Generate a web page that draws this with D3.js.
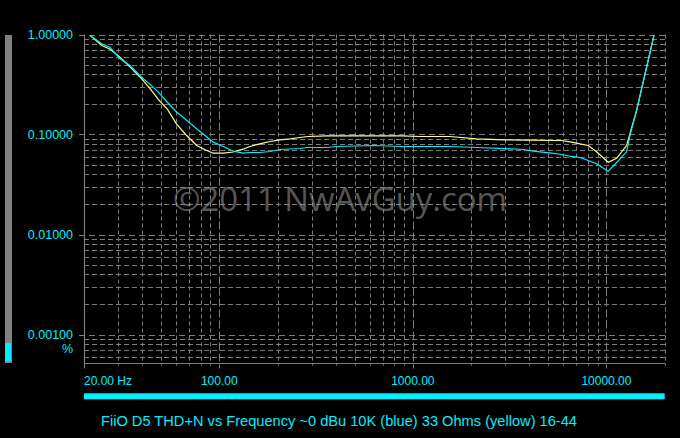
<!DOCTYPE html>
<html><head><meta charset="utf-8">
<script src="https://cdn.jsdelivr.net/npm/d3@7"></script>
<style>
html,body{margin:0;padding:0;background:#000;}
svg{display:block;}
</style></head>
<body>
<svg id="chart" width="680" height="438"></svg>
<script>
// ---- data ----
const freqs = [21.5, 24.7, 27.2, 30.7, 34.6, 39.7, 44, 48.4, 54, 60.2, 67, 76.4, 85, 93.1, 105, 118, 132.5, 144, 162, 183, 206, 232, 261, 287, 359, 404, 624, 875, 1089, 1553, 2134, 2993, 3716, 4188, 5212, 5865, 6610, 7295, 8054, 8895, 10210, 11290, 12710, 13220, 14320, 17590];
const blue10K = [0.98, 0.807, 0.746, 0.571, 0.490, 0.374, 0.315, 0.265, 0.209, 0.168, 0.141, 0.114, 0.0966, 0.0839, 0.0759, 0.0681, 0.065, 0.0661, 0.0661, 0.0676, 0.0708, 0.0716, 0.0724, 0.0741, 0.0741, 0.0759, 0.0776, 0.0759, 0.0759, 0.0759, 0.0741, 0.0724, 0.0708, 0.0681, 0.065, 0.0631, 0.0603, 0.0589, 0.055, 0.051, 0.043, 0.0525, 0.0671, 0.0977, 0.174, 0.977];
const yellow33 = [0.98, 0.776, 0.716, 0.593, 0.471, 0.360, 0.286, 0.224, 0.178, 0.127, 0.100, 0.0776, 0.070, 0.065, 0.065, 0.0668, 0.0713, 0.0759, 0.0805, 0.0851, 0.0885, 0.0906, 0.0933, 0.0955, 0.097, 0.097, 0.097, 0.097, 0.0955, 0.0955, 0.0906, 0.0885, 0.088, 0.0877, 0.0871, 0.0871, 0.0839, 0.0805, 0.0776, 0.0671, 0.0527, 0.0578, 0.0776, 0.1016, 0.174, 0.977];
const yTickValues = [1, 0.1, 0.01, 0.001];
const yTickLabels = ["1.00000", "0.10000", "0.01000", "0.00100"];
const xTickValues = [20, 100, 1000, 10000];
const xTickLabels = ["20.00 Hz", "100.00", "1000.00", "10000.00"];
const yUnit = "%";
const title = "FiiO D5 THD+N vs Frequency ~0 dBu 10K (blue) 33 Ohms (yellow) 16-44";
const watermark = "\u00A92011 NwAvGuy.com";

// ---- layout ----
const L = 84, R = 664.7, T = 34.5, B = 363.5;
const CY = "#00eeff", GRID = "#7c7c7c";
const svg = d3.select("#chart");
svg.append("rect").attr("width",680).attr("height",438).attr("fill","#000");

const x = d3.scaleLog().domain([20, 20000]).range([L, R]);
const y = d3.scaleLog().domain([1, 0.001]).range([T, T + 300]);

// level meter bar at left
svg.append("rect").attr("x",5).attr("y",35).attr("width",7).attr("height",328).attr("fill","#808080");
svg.append("rect").attr("x",5).attr("y",343).attr("width",6).attr("height",18.5).attr("fill",CY);

// gridlines
const g = svg.append("g");
const hVals = [];
for (let e = -4; e <= 0; e++) for (let m = 1; m <= 9; m++) {
  const v = m * Math.pow(10, e);
  if (v <= 1.0001 && y(v) <= B) hVals.push({v, major: m === 1});
}
hVals.forEach(d => {
  const yy = Math.round(y(d.v)) + 0.5;
  g.append("line").attr("x1", d.major ? 79 : L).attr("x2", R + 0.5)
    .attr("y1", yy).attr("y2", yy)
    .attr("stroke", GRID).attr("stroke-width",1)
    .attr("stroke-dasharray", d.major ? "6,4" : "5,3");
});
const vVals = [];
for (let e = 1; e <= 4; e++) for (let m = 1; m <= 9; m++) {
  const f = m * Math.pow(10, e);
  if (f > 20 && f <= 20000) vVals.push({f, major: m === 1});
}
vVals.forEach(d => {
  const xx = Math.round(x(d.f)) + 0.5;
  g.append("line").attr("x1", xx).attr("x2", xx)
    .attr("y1", T).attr("y2", d.major ? B + 5 : B + 2)
    .attr("stroke", GRID).attr("stroke-width",1)
    .attr("stroke-dasharray", d.major ? "8,3" : "4,3");
});
// axes lines
g.append("line").attr("x1", L + 0.5).attr("x2", L + 0.5).attr("y1", T).attr("y2", B + 5)
  .attr("stroke", GRID).attr("stroke-width",1.2);
g.append("line").attr("x1", L).attr("x2", R + 1).attr("y1", B).attr("y2", B)
  .attr("stroke", GRID).attr("stroke-width",1.2);

// watermark
svg.append("text").attr("x", 340).attr("y", 211).attr("text-anchor","middle")
  .attr("font-family","'Open Sans', 'Noto Sans', sans-serif").attr("font-size",32)
  .attr("textLength",334).attr("lengthAdjust","spacingAndGlyphs")
  .attr("fill","#a0a0a0").attr("fill-opacity",0.55).text(watermark);

// curves
svg.append("clipPath").attr("id","clip").append("rect")
  .attr("x", L).attr("y", T - 1).attr("width", R - L).attr("height", B - T);
const line = d3.line().x(d => x(d[0])).y(d => y(d[1]));
const plot = svg.append("g").attr("clip-path","url(#clip)");
plot.append("path").datum(freqs.map((f,i)=>[f, yellow33[i]]))
  .attr("d", line).attr("fill","none").attr("stroke","#ffff88").attr("stroke-width",1.2);
plot.append("path").datum(freqs.map((f,i)=>[f, blue10K[i]]))
  .attr("d", line).attr("fill","none").attr("stroke","#00f0ff").attr("stroke-width",1.2);

// y labels
const font = "'Liberation Sans', Arial, sans-serif";
yTickValues.forEach((v,i) => {
  svg.append("text").attr("x",73).attr("y", y(v) + 4.5).attr("text-anchor","end")
    .attr("font-family",font).attr("font-size",12.5).attr("fill",CY).text(yTickLabels[i]);
});
svg.append("text").attr("x",73).attr("y",353).attr("text-anchor","end")
  .attr("font-family",font).attr("font-size",12.5).attr("fill",CY).text(yUnit);

// x labels
xTickValues.forEach((f,i) => {
  svg.append("text").attr("x", x(f)).attr("y", 385)
    .attr("text-anchor", i === 0 ? "start" : "middle")
    .attr("font-family",font).attr("font-size",12).attr("fill",CY).text(xTickLabels[i]);
});

// bottom bar
svg.append("rect").attr("x", L).attr("y", 393.3).attr("width", R - L).attr("height", 6).attr("fill", "#00f0ff");

// title
svg.append("text").attr("x",101).attr("y",426).attr("font-family",font).attr("font-size",14.6)
  .attr("textLength",476).attr("lengthAdjust","spacingAndGlyphs")
  .attr("fill",CY).text(title);
</script>
</body></html>
